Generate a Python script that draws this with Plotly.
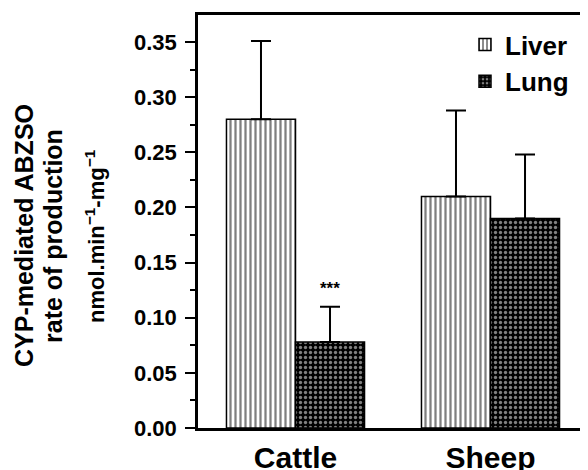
import plotly.graph_objects as go

categories = ["Cattle", "Sheep"]
liver_values = [0.280, 0.210]
liver_errors = [0.071, 0.078]
lung_values = [0.078, 0.190]
lung_errors = [0.032, 0.058]
series_names = ["Liver", "Lung"]
y_tick_values = [0.00, 0.05, 0.10, 0.15, 0.20, 0.25, 0.30, 0.35]
y_tick_labels = ["0.00", "0.05", "0.10", "0.15", "0.20", "0.25", "0.30", "0.35"]
significance = ["***", ""]
y_title_lines = ["CYP-mediated ABZSO", "rate of production"]
y_unit = "nmol.min<sup>−1</sup>-mg<sup>−1</sup>"

FONT = "Liberation Sans, Arial, Helvetica, sans-serif"
BARGAP = 0.292

# page body has an 8px margin; the figure is sized to the visible area
OFF = 8
W, H = 588 - OFF, 470 - OFF
ML, MR, MT, MB = 198 - OFF, 0, 15 - OFF, 470 - 428
PW, PH = W - ML - MR, H - MT - MB

def px_x(x):
    return (x - OFF - ML) / PW

def px_y(y):
    return (H - MB - (y - OFF)) / PH

fig = go.Figure()
fig.add_trace(go.Bar(
    name=series_names[0], x=categories, y=liver_values,
    marker=dict(color="white", line=dict(color="black", width=1.5),
                pattern=dict(shape="|", fgcolor="black", bgcolor="white",
                             size=5, solidity=0.45)),
    error_y=dict(type="data", array=liver_errors, arrayminus=[0, 0],
                 symmetric=False, color="black", thickness=2, width=10),
))
fig.add_trace(go.Bar(
    name=series_names[1], x=categories, y=lung_values,
    marker=dict(color="black", line=dict(color="black", width=1.5),
                pattern=dict(shape=".", fgcolor="white", bgcolor="black",
                             size=5, solidity=0.35)),
    error_y=dict(type="data", array=lung_errors, arrayminus=[0, 0],
                 symmetric=False, color="black", thickness=2, width=10),
))

annotations = []
for i, s in enumerate(significance):
    if s:
        annotations.append(dict(
            x=i + (1 - BARGAP) / 4, y=lung_values[i] + lung_errors[i] + 0.006,
            xref="x", yref="y", text="<b>" + s + "</b>", showarrow=False,
            yanchor="bottom", xanchor="center",
            font=dict(family=FONT, size=17, color="black")))

yc = px_y(236)
for xp, txt, sz in [(24, y_title_lines[0], 25), (53, y_title_lines[1], 25), (95, y_unit, 22)]:
    annotations.append(dict(
        x=px_x(xp), y=yc, xref="paper", yref="paper", text="<b>" + txt + "</b>",
        showarrow=False, textangle=-90, xanchor="center", yanchor="middle",
        font=dict(family=FONT, size=sz, color="black")))

fig.update_layout(
    width=W, height=H,
    margin=dict(l=ML, r=MR, t=MT, b=MB, pad=0, autoexpand=False),
    paper_bgcolor="white", plot_bgcolor="white",
    barmode="group", bargap=BARGAP, bargroupgap=0,
    font=dict(family=FONT, color="black"),
    showlegend=True,
    legend=dict(x=px_x(465), y=px_y(21), xanchor="left", yanchor="top",
                font=dict(family=FONT, size=26, color="black", weight="bold"),
                bgcolor="rgba(0,0,0,0)", borderwidth=0, tracegroupgap=0),
    annotations=annotations,
)
fig.update_xaxes(
    showline=True, linecolor="black", linewidth=2.5, mirror=True,
    ticks="", showgrid=False, zeroline=False, automargin=False,
    ticklabelstandoff=1,
    tickfont=dict(family=FONT, size=30, color="black", weight="bold"),
)
fig.update_yaxes(
    range=[0, 0.3745], showline=True, linecolor="black", linewidth=2.5,
    ticks="outside", ticklen=10, tickwidth=2, tickcolor="black",
    tickvals=y_tick_values, ticktext=y_tick_labels, automargin=False,
    ticklabelstandoff=4,
    minor=dict(dtick=0.025, ticks="outside", ticklen=5, tickwidth=2, tickcolor="black"),
    showgrid=False, zeroline=False,
    tickfont=dict(family=FONT, size=22, color="black", weight="bold"),
)

fig.write_html("out.html")
